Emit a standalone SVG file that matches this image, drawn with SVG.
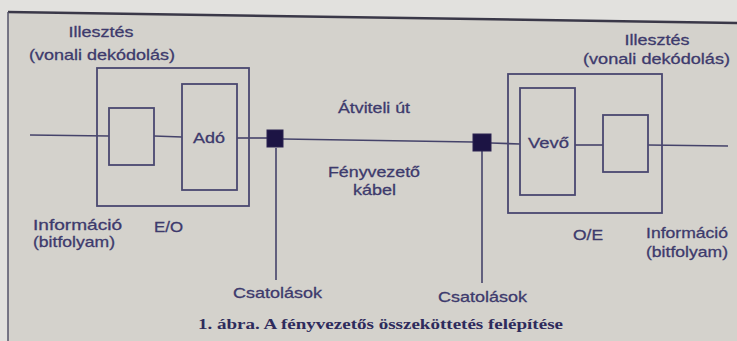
<svg xmlns="http://www.w3.org/2000/svg" width="737" height="341" viewBox="0 0 737 341">
<style>
.t{font-family:"Liberation Sans",Arial,sans-serif;font-size:15px;fill:#3d3a6c;stroke:#3d3a6c;stroke-width:0.3}
.c{font-family:"Liberation Serif","Times New Roman",serif;font-size:15px;font-weight:bold;fill:#2e2b5c}
.b{fill:none;stroke:#4a4870;stroke-width:1.8}
.w{fill:none;stroke:#45436a;stroke-width:1.6}
.k{fill:#1c1444;stroke:#2a2250;stroke-width:1}
</style>
<rect x="0" y="0" width="737" height="341" fill="#e2e1de"/>
<polygon points="8,12 737,23 737,341 8,341" fill="#d4d2cc"/>
<g id="frame">
<line x1="8" y1="12" x2="737" y2="23" stroke="#3a3848" stroke-width="2.5"/>
<line x1="8" y1="12" x2="8" y2="341" stroke="#55536a" stroke-width="1.5"/>
</g>
<g id="connectors">
<line class="w" x1="30" y1="135" x2="109" y2="136"/>
<line class="w" x1="154" y1="136" x2="182" y2="137"/>
<line class="w" x1="237" y1="138" x2="267" y2="138"/>
<line class="w" x1="283" y1="139" x2="473" y2="142"/>
<line class="w" x1="491" y1="143" x2="520" y2="144"/>
<line class="w" x1="575" y1="145" x2="603" y2="145"/>
<line class="w" x1="648" y1="145" x2="728" y2="146"/>
<line class="w" x1="276" y1="148" x2="276" y2="280"/>
<line class="w" x1="482" y1="151" x2="482" y2="283"/>
</g>
<g id="encoder-left">
<rect class="b" x="97" y="68" width="152" height="138"/>
<text class="t" x="101" y="37" text-anchor="middle" textLength="65" lengthAdjust="spacingAndGlyphs">Illesztés</text>
<text class="t" x="29" y="60" textLength="146" lengthAdjust="spacingAndGlyphs">(vonali dekódolás)</text>
<text class="t" x="154" y="232" textLength="29" lengthAdjust="spacingAndGlyphs">E/O</text>
</g>
<g id="line-coder-left">
<rect class="b" x="109" y="108" width="45" height="57"/>
</g>
<g id="transmitter">
<rect class="b" x="182" y="84" width="55" height="106"/>
<text class="t" x="193" y="143" textLength="32" lengthAdjust="spacingAndGlyphs">Adó</text>
</g>
<g id="coupler-left">
<rect class="k" x="267" y="130" width="16" height="17"/>
</g>
<g id="coupler-right">
<rect class="k" x="473" y="134" width="18" height="17"/>
</g>
<g id="decoder-right">
<rect class="b" x="508" y="74" width="154" height="139"/>
<text class="t" x="657" y="45" text-anchor="middle" textLength="65" lengthAdjust="spacingAndGlyphs">Illesztés</text>
<text class="t" x="583" y="64" textLength="147" lengthAdjust="spacingAndGlyphs">(vonali dekódolás)</text>
<text class="t" x="573" y="240" textLength="30" lengthAdjust="spacingAndGlyphs">O/E</text>
</g>
<g id="receiver">
<rect class="b" x="520" y="88" width="55" height="107"/>
<text class="t" x="528" y="148" textLength="41" lengthAdjust="spacingAndGlyphs">Vevő</text>
</g>
<g id="line-coder-right">
<rect class="b" x="603" y="115" width="45" height="57"/>
</g>
<g id="labels">
<text class="t" x="338" y="113" textLength="72" lengthAdjust="spacingAndGlyphs">Átviteli út</text>
<text class="t" x="328" y="177" textLength="92" lengthAdjust="spacingAndGlyphs">Fényvezető</text>
<text class="t" x="353" y="195" textLength="43" lengthAdjust="spacingAndGlyphs">kábel</text>
<text class="t" x="33" y="230" textLength="89" lengthAdjust="spacingAndGlyphs">Információ</text>
<text class="t" x="33" y="247" textLength="82" lengthAdjust="spacingAndGlyphs">(bitfolyam)</text>
<text class="t" x="646" y="238" textLength="82" lengthAdjust="spacingAndGlyphs">Információ</text>
<text class="t" x="646" y="257" textLength="82" lengthAdjust="spacingAndGlyphs">(bitfolyam)</text>
<text class="t" x="233" y="298" textLength="89" lengthAdjust="spacingAndGlyphs">Csatolások</text>
<text class="t" x="438" y="302" textLength="89" lengthAdjust="spacingAndGlyphs">Csatolások</text>
</g>
<g id="caption">
<text class="c" x="198" y="329" textLength="365" lengthAdjust="spacingAndGlyphs">1. ábra. A fényvezetős összeköttetés felépítése</text>
</g>
</svg>
